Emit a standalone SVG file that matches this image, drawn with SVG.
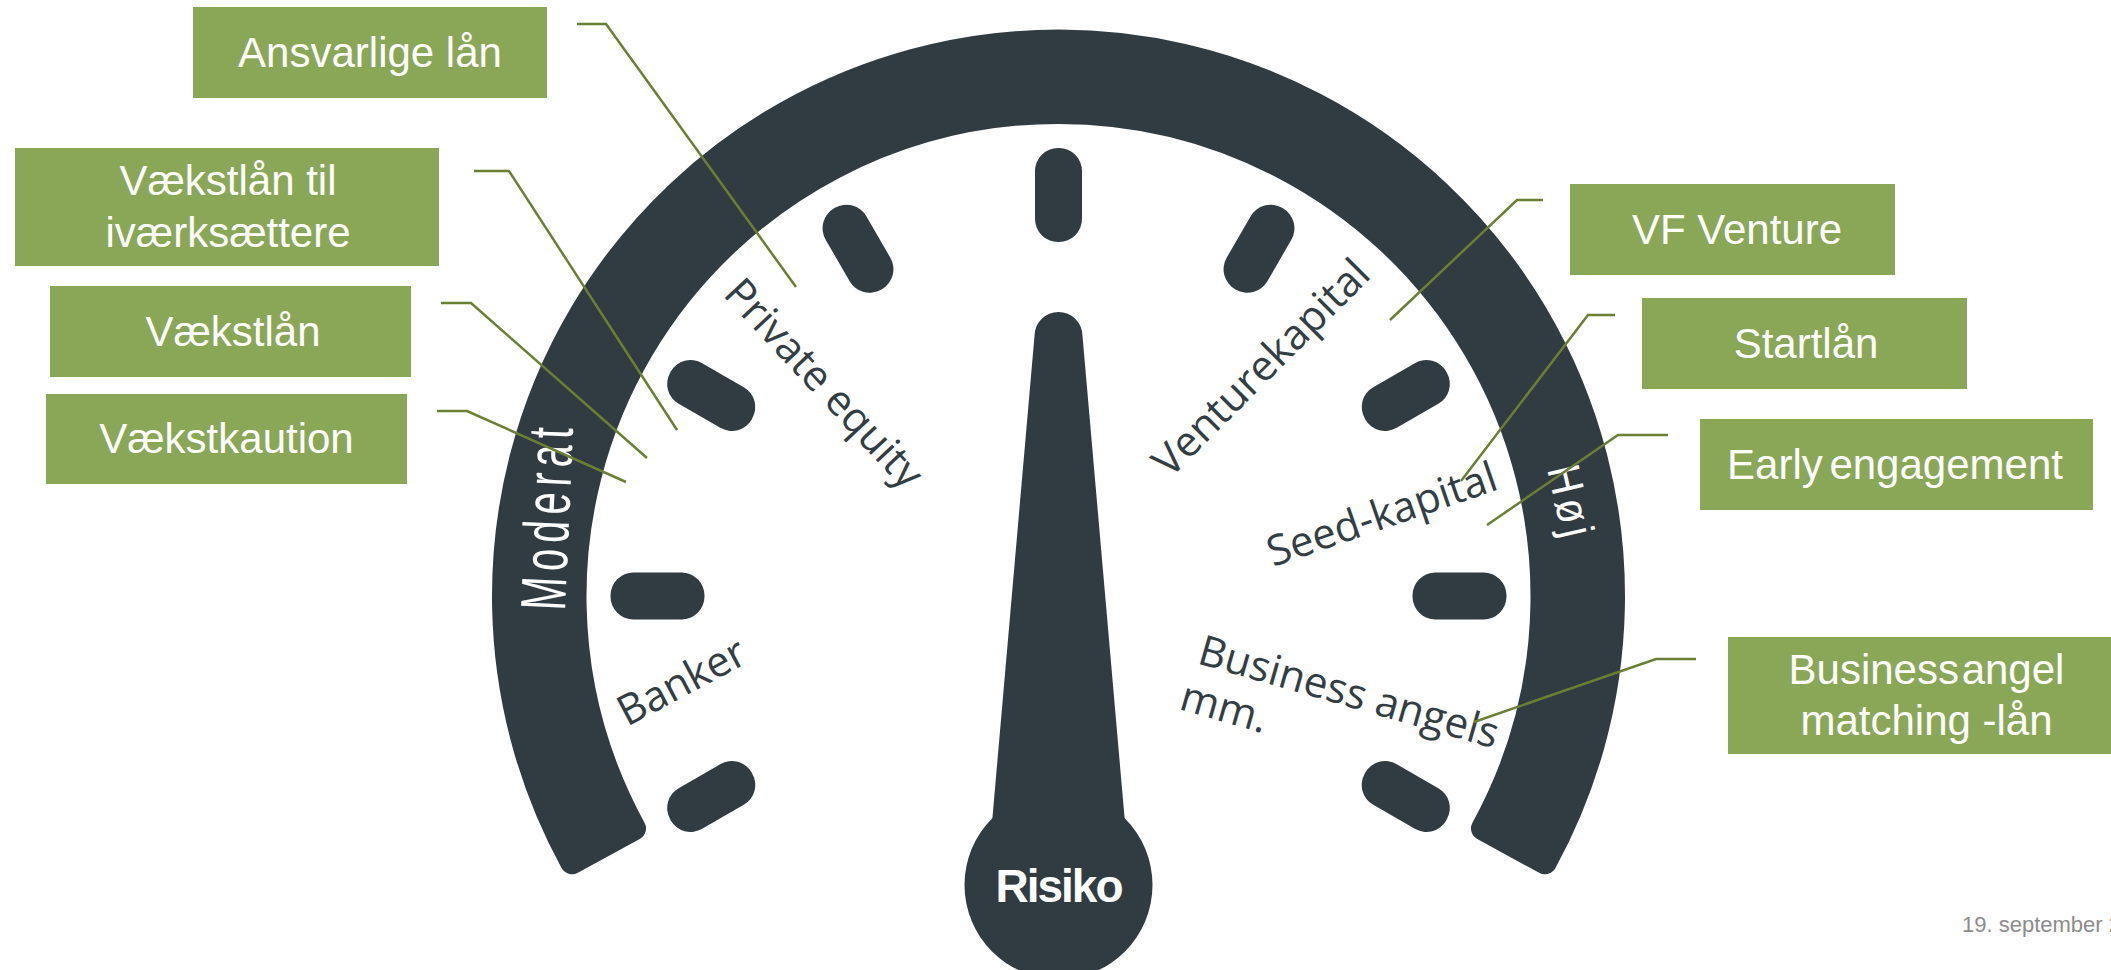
<svg xmlns="http://www.w3.org/2000/svg" width="2111" height="970" viewBox="0 0 2111 970">
<defs>
<style>
.box{fill:#8aa757}
.bt{font-family:"Liberation Sans",Arial,sans-serif;font-size:42px;fill:#ffffff;text-anchor:middle}
.conn{fill:none;stroke:#6b7f34;stroke-width:2.5}
.dark{fill:#313b42}
.gl{font-family:"Open Sans","Noto Sans",sans-serif;font-weight:400;font-size:42px;fill:#333d44}
.wl{font-family:"Liberation Sans",Arial,sans-serif;font-size:40px;fill:#ffffff}
</style>
</defs>
<rect width="2111" height="970" fill="#ffffff"/>

<g id="gauge">
  <path class="dark" stroke="#313b42" stroke-width="24" stroke-linejoin="round" d="M 572.1 862.3 A 554.5 554.5 0 1 1 1544.9 862.3 L 1483 828.4 A 484 484 0 1 0 634 828.4 Z"/>
  <g id="ticks" class="dark" transform="translate(1058.5,596)">
    <rect x="354" y="-23.5" width="94" height="47" rx="23" transform="rotate(150)"/>
    <rect x="354" y="-23.5" width="94" height="47" rx="23" transform="rotate(180)"/>
    <rect x="354" y="-23.5" width="94" height="47" rx="23" transform="rotate(210)"/>
    <rect x="354" y="-23.5" width="94" height="47" rx="23" transform="rotate(240)"/>
    <rect x="354" y="-23.5" width="94" height="47" rx="23" transform="rotate(270)"/>
    <rect x="354" y="-23.5" width="94" height="47" rx="23" transform="rotate(300)"/>
    <rect x="354" y="-23.5" width="94" height="47" rx="23" transform="rotate(330)"/>
    <rect x="354" y="-23.5" width="94" height="47" rx="23" transform="rotate(0)"/>
    <rect x="354" y="-23.5" width="94" height="47" rx="23" transform="rotate(30)"/>
  </g>
  <text class="wl" transform="translate(565,611) rotate(-87.5) scale(1,1.6)" letter-spacing="6">Moderat</text>
  <text class="wl" transform="translate(1547,469) rotate(77) scale(1,1.15)" letter-spacing="5">Høj</text>
</g>

<g id="needle">
  <path class="dark" d="M 1034.5 336 A 24 24 0 0 1 1082.5 336 L 1126.5 840 L 990.5 840 Z"/>
  <circle class="dark" cx="1058.5" cy="885" r="94"/>
  <text x="1058.5" y="902" text-anchor="middle" font-family="Liberation Sans, Arial, sans-serif" font-weight="bold" font-size="46" letter-spacing="-2" fill="#ffffff">Risiko</text>
</g>

<g id="gauge-labels">
  <text class="gl" transform="translate(722,295) rotate(47)">Private equity</text>
  <text class="gl" transform="translate(1170,479) rotate(-45)">Venturekapital</text>
  <text class="gl" transform="translate(1273,567) rotate(-19)">Seed-kapital</text>
  <text class="gl" transform="translate(627,727) rotate(-28)">Banker</text>
  <text class="gl" transform="translate(1196,663) rotate(16)"><tspan x="0" y="0">Business angels</tspan><tspan x="-5" y="49">mm.</tspan></text>
</g>

<g id="connectors">
  <polyline class="conn" points="577,24 606,24 796,287"/>
  <polyline class="conn" points="474,171 509,171 677,430"/>
  <polyline class="conn" points="441,303 471,303 647,458"/>
  <polyline class="conn" points="437,411 467,411 626,482"/>
  <polyline class="conn" points="1543,200 1517,200 1390,320"/>
  <polyline class="conn" points="1615,315 1588,315 1461,481"/>
  <polyline class="conn" points="1668,435 1618,435 1487,525"/>
  <polyline class="conn" points="1696,659 1656,659 1474,722"/>
</g>

<g id="node-ansvarlige">
  <rect class="box" x="193" y="7" width="354" height="91"/>
  <text class="bt" x="370" y="67">Ansvarlige lån</text>
</g>
<g id="node-vaekstlan-iv">
  <rect class="box" x="15" y="148" width="424" height="118"/>
  <text class="bt" x="228" y="195">Vækstlån til</text>
  <text class="bt" x="228" y="247">iværksættere</text>
</g>
<g id="node-vaekstlan">
  <rect class="box" x="50" y="286" width="361" height="91"/>
  <text class="bt" x="233" y="346">Vækstlån</text>
</g>
<g id="node-vaekstkaution">
  <rect class="box" x="46" y="394" width="361" height="90"/>
  <text class="bt" x="226.5" y="453">Vækstkaution</text>
</g>
<g id="node-vf-venture">
  <rect class="box" x="1570" y="184" width="325" height="91"/>
  <text class="bt" x="1737" y="244">VF Venture</text>
</g>
<g id="node-startlan">
  <rect class="box" x="1642" y="298" width="325" height="91"/>
  <text class="bt" x="1806" y="358">Startlån</text>
</g>
<g id="node-early">
  <rect class="box" x="1700" y="419" width="393" height="91"/>
  <text class="bt" x="1895" y="479" word-spacing="-5">Early engagement</text>
</g>
<g id="node-business-angel">
  <rect class="box" x="1728" y="637" width="400" height="117"/>
  <text class="bt" x="1926.5" y="684" word-spacing="-9">Business angel</text>
  <text class="bt" x="1926.5" y="735">matching -lån</text>
</g>

<text x="1962" y="932" font-family="Liberation Sans, Arial, sans-serif" font-size="22" fill="#8c8c8c">19. september 2</text>
</svg>
